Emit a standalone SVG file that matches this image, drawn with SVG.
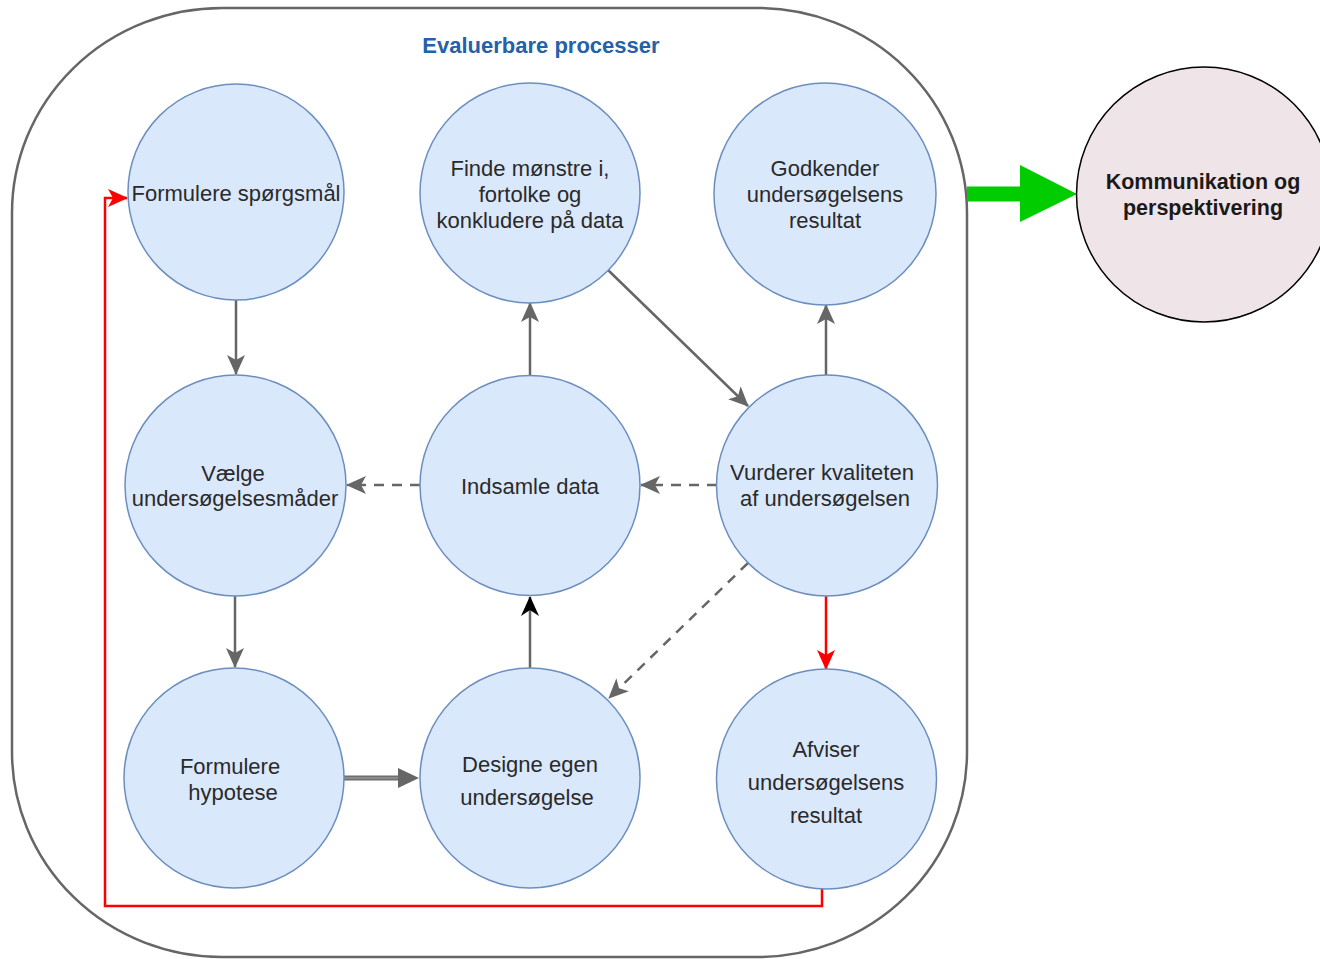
<svg xmlns="http://www.w3.org/2000/svg" width="1320" height="959" viewBox="0 0 1320 959">
<style>
.node{fill:#dae8fc;stroke:#6c8ebf;stroke-width:1.5}
.txt{font-family:"Liberation Sans",Arial,sans-serif;font-size:22px;fill:#2a2a2a;text-anchor:middle}
.conn{fill:none;stroke:#666666;stroke-width:2.5}
.dash{stroke-dasharray:10 8}
.red{fill:none;stroke:#ff0000;stroke-width:2.5}
</style>
<defs>
<marker id="ag" markerUnits="userSpaceOnUse" markerWidth="20" markerHeight="18" refX="19" refY="9" orient="auto">
<path d="M0,0 L20,9 L0,18 L5,9 z" fill="#666666"/>
</marker>
<marker id="ab" markerUnits="userSpaceOnUse" markerWidth="20" markerHeight="18" refX="19" refY="9" orient="auto">
<path d="M0,0 L20,9 L0,18 L6,9 z" fill="#000000"/>
</marker>
<marker id="ar" markerUnits="userSpaceOnUse" markerWidth="20" markerHeight="18" refX="19" refY="9" orient="auto">
<path d="M0,0 L20,9 L0,18 L5,9 z" fill="#ff0000"/>
</marker>
</defs>
<rect width="1320" height="959" fill="#ffffff"/>
<g id="container">
<rect x="12" y="8" width="955" height="949" rx="210" ry="205" fill="#ffffff" stroke="#666666" stroke-width="2.5"/>
<text x="541" y="53" font-family="'Liberation Sans',Arial,sans-serif" font-size="22" font-weight="bold" fill="#2561a8" text-anchor="middle">Evaluerbare processer</text>
</g>
<g id="connectors">
<line class="conn" x1="236" y1="300" x2="236" y2="374" marker-end="url(#ag)"/>
<line class="conn" x1="235" y1="596" x2="235" y2="667" marker-end="url(#ag)"/>
<line x1="344" y1="778" x2="400" y2="778" stroke="#6f6f6f" stroke-width="5"/>
<line x1="344" y1="778" x2="400" y2="778" stroke="#a8a8a8" stroke-width="1.2"/>
<path d="M398,768 L419,778 L398,788 z" fill="#666666"/>
<line class="conn" x1="530" y1="668" x2="530" y2="597" marker-end="url(#ab)"/>
<line class="conn" x1="530" y1="375" x2="530" y2="303" marker-end="url(#ag)"/>
<line class="conn" x1="608" y1="270" x2="748" y2="406" marker-end="url(#ag)"/>
<line class="conn" x1="826" y1="375" x2="826" y2="305" marker-end="url(#ag)"/>
<line class="conn dash" x1="717" y1="485" x2="641" y2="485" marker-end="url(#ag)"/>
<line class="conn dash" x1="420" y1="485" x2="347" y2="485" marker-end="url(#ag)"/>
<line class="conn dash" x1="748" y1="563" x2="609" y2="698" marker-end="url(#ag)"/>
<line class="red" x1="826" y1="596" x2="826" y2="669" marker-end="url(#ar)"/>
<path class="red" d="M822,888 L822,906 L105,906 L105,198 L127,198" marker-end="url(#ar)"/>
<path d="M967,186.5 L1020,186.5 L1020,165 L1077,194 L1020,222 L1020,201.5 L967,201.5 z" fill="#00cc00"/>
</g>
<g id="n1"><circle class="node" cx="236" cy="192" r="108"/>
<text class="txt" x="236" y="201">Formulere spørgsmål</text></g>
<g id="n2"><circle class="node" cx="530" cy="193" r="110"/>
<text class="txt" x="530" y="176">Finde mønstre i,</text>
<text class="txt" x="530" y="202">fortolke og</text>
<text class="txt" x="530" y="228">konkludere på data</text></g>
<g id="n3"><circle class="node" cx="825" cy="194" r="111"/>
<text class="txt" x="825" y="176">Godkender</text>
<text class="txt" x="825" y="202">undersøgelsens</text>
<text class="txt" x="825" y="228">resultat</text></g>
<g id="n4"><circle class="node" cx="235.5" cy="485.5" r="110.5"/>
<text class="txt" x="233" y="481">Vælge</text>
<text class="txt" x="235" y="506">undersøgelsesmåder</text></g>
<g id="n5"><circle class="node" cx="530" cy="485.5" r="110"/>
<text class="txt" x="530" y="494">Indsamle data</text></g>
<g id="n6"><circle class="node" cx="827" cy="485.5" r="110.5"/>
<text class="txt" x="822" y="480">Vurderer kvaliteten</text>
<text class="txt" x="825" y="506">af undersøgelsen</text></g>
<g id="n7"><circle class="node" cx="234" cy="778" r="110"/>
<text class="txt" x="230" y="774">Formulere</text>
<text class="txt" x="233" y="800">hypotese</text></g>
<g id="n8"><circle class="node" cx="530" cy="778" r="110"/>
<text class="txt" x="530" y="772">Designe egen</text>
<text class="txt" x="527" y="805">undersøgelse</text></g>
<g id="n9"><circle class="node" cx="826.5" cy="779" r="110"/>
<text class="txt" x="826" y="757">Afviser</text>
<text class="txt" x="826" y="790">undersøgelsens</text>
<text class="txt" x="826" y="823">resultat</text></g>
<g id="n10"><circle cx="1204" cy="194.5" r="127.5" fill="#efe4e8" stroke="#000000" stroke-width="1.5"/>
<text x="1203" y="189" font-family="'Liberation Sans',Arial,sans-serif" font-size="21.5" font-weight="bold" fill="#1a1a1a" text-anchor="middle">Kommunikation og</text>
<text x="1203" y="215" font-family="'Liberation Sans',Arial,sans-serif" font-size="21.5" font-weight="bold" fill="#1a1a1a" text-anchor="middle">perspektivering</text></g>
</svg>
